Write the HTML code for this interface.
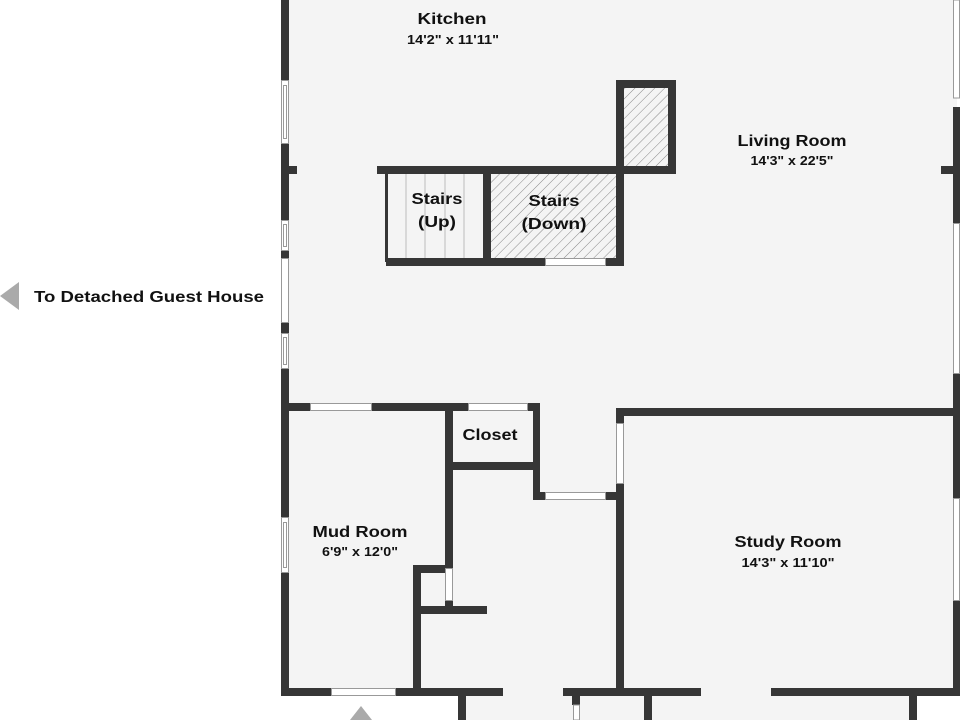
<!DOCTYPE html>
<html><head><meta charset="utf-8"><style>
html,body{margin:0;padding:0;background:#fff;width:960px;height:720px;overflow:hidden}
text{font-family:"Liberation Sans","DejaVu Sans",sans-serif;font-weight:bold;fill:#111}
</style></head><body>
<svg width="960" height="720" viewBox="0 0 960 720" xmlns="http://www.w3.org/2000/svg">
<defs>
<pattern id="h" width="7" height="7" patternUnits="userSpaceOnUse" patternTransform="rotate(45)">
<rect width="7" height="7" fill="#f4f4f4"/><line x1="0" y1="0" x2="0" y2="7" stroke="#888" stroke-width="1"/>
</pattern>
</defs>
<rect x="0" y="0" width="960" height="720" fill="#fff"/>
<rect x="285" y="0" width="672" height="692" fill="#f4f4f4"/>
<rect x="458" y="692" width="459" height="28" fill="#f4f4f4"/>
<rect x="490" y="174" width="126" height="84" fill="url(#h)"/>
<rect x="624" y="88" width="44" height="78" fill="url(#h)"/>
<g stroke="#bbb" stroke-width="1">
<line x1="406" y1="174" x2="406" y2="258"/><line x1="425" y1="174" x2="425" y2="258"/>
<line x1="445" y1="174" x2="445" y2="258"/><line x1="464" y1="174" x2="464" y2="258"/>
</g>
<g fill="#363636">
<rect x="281" y="0" width="8" height="80"/>
<rect x="281" y="143" width="8" height="77"/>
<rect x="281" y="166" width="16" height="8"/>
<rect x="281" y="250" width="8" height="8"/>
<rect x="281" y="322" width="8" height="11"/>
<rect x="281" y="368" width="8" height="328"/>
<rect x="953" y="107" width="7" height="116"/>
<rect x="941" y="166" width="19" height="8"/>
<rect x="953" y="373" width="7" height="47"/>
<rect x="377" y="166" width="299" height="8"/>
<rect x="385" y="174" width="3" height="88"/>
<rect x="386" y="258" width="159" height="8"/>
<rect x="605" y="258" width="18" height="8"/>
<rect x="483" y="166" width="8" height="100"/>
<rect x="616" y="80" width="8" height="186"/>
<rect x="616" y="80" width="60" height="8"/>
<rect x="668" y="80" width="8" height="94"/>
<rect x="281" y="403" width="29" height="8"/>
<rect x="371" y="403" width="97" height="8"/>
<rect x="527" y="403" width="13" height="8"/>
<rect x="445" y="403" width="8" height="165"/>
<rect x="445" y="462" width="95" height="8"/>
<rect x="533" y="403" width="7" height="97"/>
<rect x="533" y="492" width="12" height="8"/>
<rect x="605" y="492" width="18" height="8"/>
<rect x="413" y="565" width="40" height="8"/>
<rect x="413" y="565" width="8" height="131"/>
<rect x="445" y="600" width="8" height="14"/>
<rect x="413" y="606" width="74" height="8"/>
<rect x="616" y="408" width="344" height="8"/>
<rect x="616" y="408" width="8" height="15"/>
<rect x="616" y="483" width="8" height="213"/>
<rect x="953" y="408" width="7" height="90"/>
<rect x="953" y="600" width="7" height="96"/>
<rect x="281" y="688" width="50" height="8"/>
<rect x="395" y="688" width="108" height="8"/>
<rect x="563" y="688" width="138" height="8"/>
<rect x="771" y="688" width="189" height="8"/>
<rect x="458" y="696" width="8" height="24"/>
<rect x="572" y="696" width="8" height="9"/>
<rect x="644" y="696" width="8" height="24"/>
<rect x="909" y="696" width="8" height="24"/>
</g>
<g fill="#fff" stroke="#999" stroke-width="1">
<rect x="281.5" y="80.5" width="7" height="63"/>
<rect x="283.5" y="85.5" width="3" height="53"/>
<rect x="281.5" y="220.5" width="7" height="30"/>
<rect x="283.5" y="224.5" width="3" height="22"/>
<rect x="281.5" y="258.5" width="7" height="64"/>
<rect x="281.5" y="333.5" width="7" height="35"/>
<rect x="283.5" y="337.5" width="3" height="27"/>
<rect x="953.5" y="0" width="6" height="98"/>
<rect x="953.5" y="223.5" width="6" height="150"/>
<rect x="310.5" y="403.5" width="61" height="7"/>
<rect x="468.5" y="403.5" width="59" height="7"/>
<rect x="545.5" y="258.5" width="60" height="7"/>
<rect x="545.5" y="492.5" width="60" height="7"/>
<rect x="616.5" y="423.5" width="7" height="60"/>
<rect x="445.5" y="568.5" width="7" height="32"/>
<rect x="281.5" y="517.5" width="7" height="55"/>
<rect x="283.5" y="522.5" width="3" height="45"/>
<rect x="953.5" y="498.5" width="6" height="102"/>
<rect x="331.5" y="688.5" width="64" height="7"/>
<rect x="573.5" y="705" width="6" height="15"/>
</g>
<polygon points="0,296 19,282 19,310" fill="#aaa"/>
<polygon points="361,706 350,720 372,720" fill="#aaa"/>
<text x="34" y="302" font-size="16" textLength="230" lengthAdjust="spacingAndGlyphs">To Detached Guest House</text>
<g text-anchor="middle">
<text x="452" y="24" font-size="16" textLength="69" lengthAdjust="spacingAndGlyphs">Kitchen</text>
<text x="453" y="44" font-size="12.5" textLength="92" lengthAdjust="spacingAndGlyphs">14'2" x 11'11"</text>
<text x="792" y="146" font-size="16" textLength="109" lengthAdjust="spacingAndGlyphs">Living Room</text>
<text x="792" y="165" font-size="12.5" textLength="83" lengthAdjust="spacingAndGlyphs">14'3" x 22'5"</text>
<text x="437" y="204" font-size="16" textLength="51" lengthAdjust="spacingAndGlyphs">Stairs</text>
<text x="437" y="227" font-size="16" textLength="38" lengthAdjust="spacingAndGlyphs">(Up)</text>
<text x="554" y="206" font-size="16" textLength="51" lengthAdjust="spacingAndGlyphs">Stairs</text>
<text x="554" y="229" font-size="16" textLength="65" lengthAdjust="spacingAndGlyphs">(Down)</text>
<text x="490" y="440" font-size="16" textLength="55" lengthAdjust="spacingAndGlyphs">Closet</text>
<text x="360" y="537" font-size="16" textLength="95" lengthAdjust="spacingAndGlyphs">Mud Room</text>
<text x="360" y="556" font-size="12.5" textLength="76" lengthAdjust="spacingAndGlyphs">6'9" x 12'0"</text>
<text x="788" y="547" font-size="16" textLength="107" lengthAdjust="spacingAndGlyphs">Study Room</text>
<text x="788" y="567" font-size="12.5" textLength="93" lengthAdjust="spacingAndGlyphs">14'3" x 11'10"</text>
</g>
</svg>
</body></html>
